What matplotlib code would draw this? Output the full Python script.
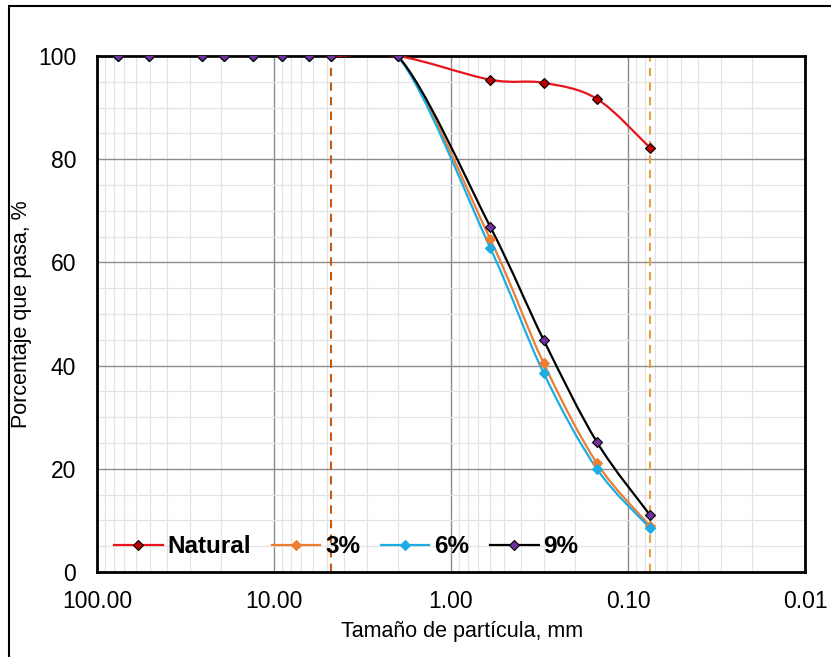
import numpy as np
import matplotlib
matplotlib.use("Agg")
from matplotlib import pyplot as plt
from matplotlib.path import Path
from matplotlib.patches import PathPatch, Rectangle
from matplotlib.lines import Line2D
from matplotlib.ticker import FixedLocator, FuncFormatter, MultipleLocator

plt.rcParams['font.family'] = ['Liberation Sans', 'DejaVu Sans']

# sieve openings (mm) and percent passing
sizes = [76.2, 50.8, 25.4, 19.05, 13.1, 9.0, 6.35, 4.75, 2.0, 0.6, 0.3, 0.15, 0.075]
natural = [100, 100, 100, 100, 100, 100, 100, 100, 100, 95.4, 94.8, 91.7, 82.2]
p3 = [100, 100, 100, 100, 100, 100, 100, 100, 100, 64.5, 40.5, 21.1, 8.9]
p6 = [100, 100, 100, 100, 100, 100, 100, 100, 100, 62.8, 38.6, 20.0, 8.5]
p9 = [100, 100, 100, 100, 100, 100, 100, 100, 100, 66.9, 45.0, 25.2, 11.0]
labels = ["Natural", "3%", "6%", "9%"]
limits = [4.75, 0.075]

series = [natural, p3, p6, p9]
line_colors = ["#E8141B", "#ED7D31", "#1CADE4", "#000000"]
mk_colors = ["#C00000", "#ED7D31", "#1CADE4", "#7030A0"]
mk_edges = ["#000000", "#ED7D31", "#1CADE4", "#000000"]


def smooth_path(x, y):
    # excel-like smoothed line: bezier segments built in log-x space
    lx = np.log10(x)
    y = np.asarray(y, float)
    n = len(lx)
    verts = [(x[0], y[0])]
    codes = [Path.MOVETO]
    for i in range(n - 1):
        a = max(i - 1, 0)
        b = min(i + 2, n - 1)
        c1x = lx[i] + (lx[i + 1] - lx[a]) / 6
        c1y = y[i] + (y[i + 1] - y[a]) / 6
        c2x = lx[i + 1] - (lx[b] - lx[i]) / 6
        c2y = y[i + 1] - (y[b] - y[i]) / 6
        verts += [(10 ** c1x, c1y), (10 ** c2x, c2y), (x[i + 1], y[i + 1])]
        codes += [Path.CURVE4] * 3
    return Path(verts, codes)


fig = plt.figure(figsize=(8.31, 6.57), dpi=100)
ax = fig.add_axes([0.1167, 0.1294, 0.852, 0.7854])
ax.set_xscale("log")
ax.set_xlim(100, 0.01)
ax.set_ylim(0, 100)

ax.xaxis.set_major_locator(FixedLocator([100, 10, 1, 0.1, 0.01]))
ax.xaxis.set_major_formatter(FuncFormatter(lambda v, p: "%.2f" % v))
ax.yaxis.set_major_locator(MultipleLocator(20))
ax.yaxis.set_minor_locator(MultipleLocator(5))
ax.grid(which="major", color="#8C8C8C", lw=1.0)
ax.grid(which="minor", color="#E3E3E3", lw=0.9)
ax.set_axisbelow(True)
ax.tick_params(which="both", length=0)
ax.tick_params(axis="x", labelsize=16.5, pad=13)
ax.tick_params(axis="y", labelsize=16.5, pad=15)
for s in ax.spines.values():
    s.set_linewidth(2)
    s.set_zorder(2.5)

ax.axvline(limits[0], color="#C55A11", lw=1.5, ls=(0, (4, 3)), zorder=2)
ax.axvline(limits[1], color="#E6A23C", lw=1.5, ls=(0, (4, 3)), zorder=2)

handles = []
for vals, lc, mc, me, lab in zip(series, line_colors, mk_colors, mk_edges, labels):
    ax.add_patch(PathPatch(smooth_path(sizes, vals), fill=False, edgecolor=lc, lw=1.6, zorder=3))
    ax.plot(sizes, vals, ls="none", marker="D", ms=5, mfc=mc, mec=me, mew=0.8, zorder=4)
    handles.append(Line2D([], [], color=lc, lw=1.6, marker="D", ms=5, mfc=mc, mec=me, mew=0.8))

ax.legend(handles, labels, loc="lower left", ncol=4, frameon=False,
          prop={"weight": "bold", "size": 17.5}, handlelength=2.0, handletextpad=0.2,
          columnspacing=0.85, bbox_to_anchor=(-0.007, -0.016))

ax.set_xlabel("Tamaño de partícula, mm", fontsize=15.5, labelpad=5)
ax.set_ylabel("Porcentaje que pasa, %", fontsize=15.5, labelpad=4)
ax.xaxis.set_label_coords(0.515, -0.095)

fig.patches.append(Rectangle((9 / 831, -0.2), 1.2, 1.2 - 6 / 657, transform=fig.transFigure,
                             fill=False, edgecolor="black", lw=1.5))

fig.savefig("out.png", dpi=100)
